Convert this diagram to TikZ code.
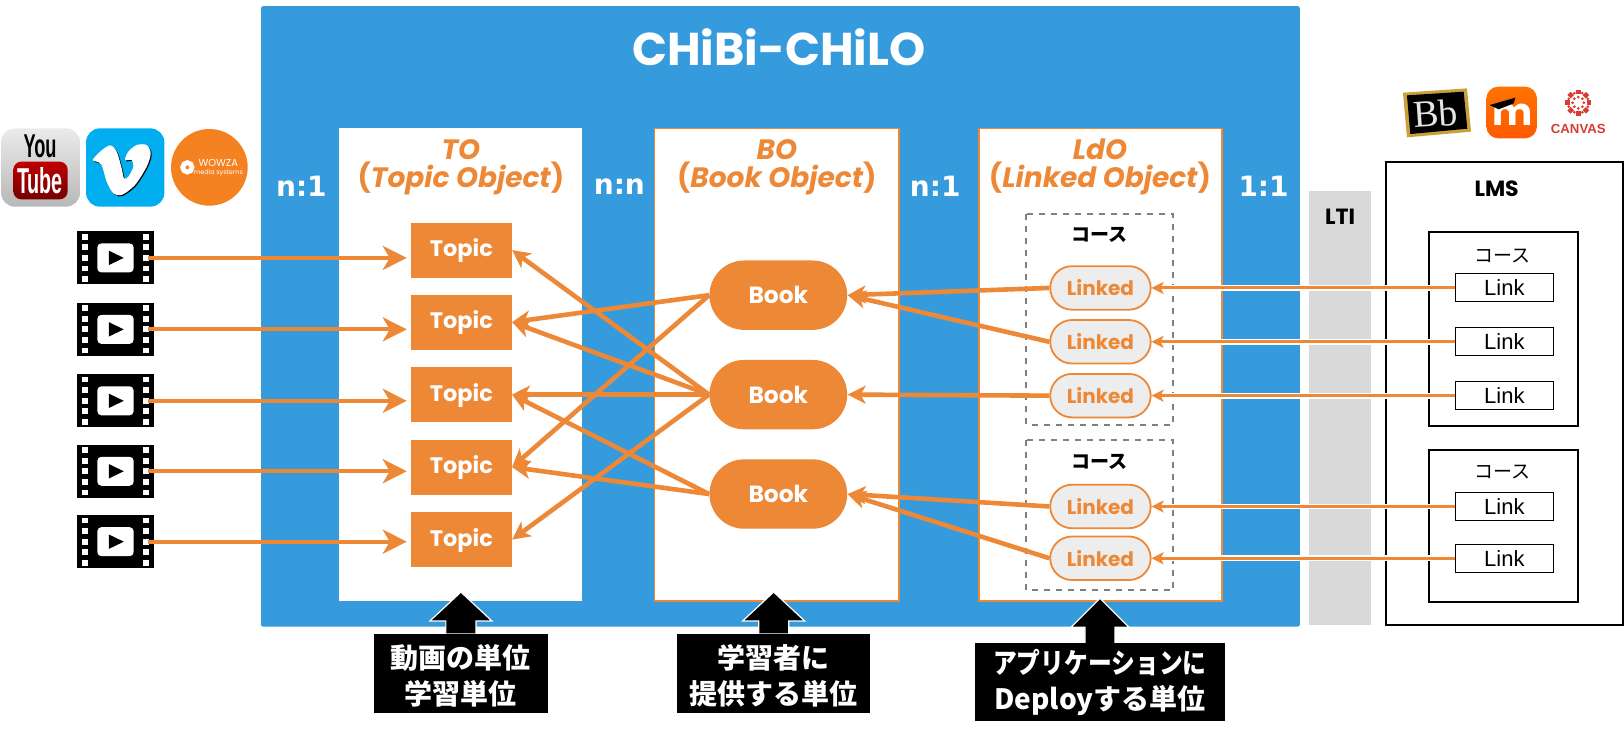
\documentclass[tikz,border=0pt]{standalone}
\usepackage{fontspec}
\setmainfont{Poppins}
\newfontfamily\cjk{Noto Sans CJK JP}
\newfontfamily\ratiofont{DejaVu Sans}
\newfontfamily\arialfont{Liberation Sans}
\newfontfamily\timesfont{Liberation Serif}
\usetikzlibrary{arrows.meta,shapes.misc}
\definecolor{chiloblue}{HTML}{359BDD}
\definecolor{chilo}{HTML}{ED8837}
\definecolor{canvasred}{HTML}{D83B32}
\newcommand{\ux}{.5179pt}
\tikzset{
  objbox/.style={draw=chilo,fill=white,line width=.9pt},
  objtitle/.style={text=chilo,font=\fontsize{14}{14}\selectfont\bfseries\itshape,align=center},
  ratio/.style={text=white,font=\ratiofont\fontsize{14}{16}\selectfont\bfseries},
  topicnode/.style={fill=chilo,text=white,minimum width=97*\ux,minimum height=53*\ux,inner sep=0pt,text height=6.8pt,text depth=0pt,font=\fontsize{11.2}{13}\selectfont\bfseries},
  booknode/.style={rounded rectangle,fill=chilo,text=white,minimum width=133*\ux,minimum height=67*\ux,inner sep=0pt,font=\fontsize{11.7}{13}\selectfont\bfseries},
  linkednode/.style={rounded rectangle,draw=chilo,fill=black!7,text=chilo,line width=.9pt,minimum width=97*\ux,minimum height=42*\ux,inner sep=0pt,font=\fontsize{10}{12}\selectfont\bfseries},
  linknode/.style={draw,fill=white,line width=.5pt,minimum width=95*\ux,minimum height=27*\ux,inner sep=0pt,font=\arialfont\fontsize{11}{12}\selectfont},
  course/.style={draw=black!50,dashed,line width=1pt},
  coursebold/.style={font=\cjk\fontsize{9.5}{11}\selectfont\bfseries},
  courseplain/.style={font=\cjk\fontsize{9.5}{11}\selectfont},
  lmsbox/.style={draw,line width=1pt},
  filmbox/.style={fill=black,minimum width=75*\ux,minimum height=51*\ux,inner sep=0pt},
  filmarrow/.style={draw=chilo,line width=2.1pt,-{Stealth[length=12pt,width=12pt,inset=3.5pt]}},
  thickarrow/.style={draw=chilo,line width=2.3pt,-{Stealth[length=9pt,width=9pt,inset=2.5pt]}},
  linkarrow/.style={draw=chilo,line width=1.5pt,-{Stealth[length=6pt,width=6pt,inset=1.5pt]},preaction={draw=white,-,line width=2.9pt,shorten >=3pt}},
  unitbox/.style={fill=black,text=white,inner sep=0pt,align=center,font=\cjk\fontsize{14}{18}\selectfont\bfseries},
  blockarrow/.style={fill=black,draw=white,line width=.6pt},
  filmicon/.pic={
    \foreach \a in {-29.5,29.5} \foreach \b in {-20.5,-10.2,0,10.2,20.5}
      \fill[white] (\a-2.8,\b-2.8) rectangle (\a+2.8,\b+2.8);
    \fill[white,rounded corners=2pt] (-17.5,-14) rectangle (17.5,14);
    \fill (-6.5,-7) -- (8,0) -- (-6.5,7) -- cycle;
  },
}
\begin{document}
\begin{tikzpicture}[x=\ux,y=-\ux]
\useasboundingbox (0,0) rectangle (1568,709.6);
\fill[chiloblue,rounded corners=1pt] (252,6) rectangle (1255,605);
\node[text=white,font=\fontsize{23}{25}\selectfont\bfseries] (title) at (752,46) {CHiBi-CHiLO};
\fill[white] (327,124) rectangle (562,580);
\draw[objbox] (632,124) rectangle (868,580);
\draw[objbox] (945,124) rectangle (1180,580);
\node[objtitle] (totitle) at (445,161.5) {TO\\{\upshape (}Topic Object{\upshape )}};
\node[objtitle] (botitle) at (750,161.5) {BO\\{\upshape (}Book Object{\upshape )}};
\node[objtitle] (ldotitle) at (1062,161.5) {LdO\\{\upshape (}Linked Object{\upshape )}};
\node[ratio] (ratioa) at (291,180) {n:1};
\node[ratio] (ratiob) at (598,180) {n:n};
\node[ratio] (ratioc) at (903,180) {n:1};
\node[ratio] (ratiod) at (1220,180) {1:1};
\draw[course] (991,207) rectangle (1133,410);
\draw[course] (991,425) rectangle (1133,570);
\node[coursebold] (coursea) at (1062,227) {コース};
\node[coursebold] (courseb) at (1062,446) {コース};
\fill[black!15] (1264,184) rectangle (1324,603);
\node[font=\fontsize{11}{13}\selectfont\bfseries] (lti) at (1294,209) {LTI};
\draw[lmsbox] (1338,156) rectangle (1567,603);
\node[font=\fontsize{11}{13}\selectfont\bfseries] (lms) at (1445,182) {LMS};
\draw[lmsbox] (1380,224) rectangle (1524,411);
\draw[lmsbox] (1380,434) rectangle (1524,581);
\node[courseplain] (lmscoursea) at (1451,247) {コース};
\node[courseplain] (lmscourseb) at (1451,456) {コース};
\foreach \i/\y in {1/241.5,2/311,3/381,4/451,5/521} {
\node[topicnode] (topic\i) at (445.5,\y) {Topic};
}
\foreach \i/\y in {1/285,2/381,3/477} {
\node[booknode] (book\i) at (751.5,\y) {Book};
}
\foreach \i/\y in {1/278,2/330,3/382,4/489,5/539} {
\node[linkednode] (linked\i) at (1062.5,\y) {Linked};
\node[linknode] (link\i) at (1452.5,\y) {Link};
\draw[linkarrow] (link\i.west) -- (linked\i.east);
}
\foreach \i/\y in {1/249,2/318,3/387,4/455,5/523} {
\node[filmbox] (film\i) at (111.5,\y) {};
\pic at (film\i.center) {filmicon};
\draw[filmarrow,shorten <=-3.5pt,shorten >=2pt] (film\i.east) -- (film\i.east -| topic\i.west);
}
\foreach \b/\t in {2/1,1/2,2/2,2/3,3/3,1/4,3/4,2/5} {
\draw[thickarrow] (book\b.west) -- (topic\t.east);
}
\foreach \l/\b in {1/1,2/1,3/2,4/3,5/3} {
\draw[thickarrow] (linked\l.west) -- (book\b.east);
}
\node[unitbox,minimum width=168*\ux,minimum height=76*\ux] (unita) at (445,650) {\rule{0pt}{14.4pt}動画の単位\\学習単位};
\node[unitbox,minimum width=186*\ux,minimum height=76*\ux] (unitb) at (747,650) {\rule{0pt}{14.4pt}学習者に\\提供する単位};
\node[unitbox,minimum width=242*\ux,minimum height=75*\ux] (unitc) at (1062,658.5) {\scalebox{.85}[1]{アプリケーションに}\\Deployする単位};
\draw[blockarrow] (unita.north) ++(-14.5,0) -- ++(0,-12) -- ++(-15.5,0) -- ++(30,-28) -- ++(30,28) -- ++(-15.5,0) -- ++(0,12);
\draw[blockarrow] (unitb.north) ++(-14.5,0) -- ++(0,-12) -- ++(-15.5,0) -- ++(30,-28) -- ++(30,28) -- ++(-15.5,0) -- ++(0,12);
\draw[blockarrow] (unitc.north) ++(-14.5,0) -- ++(0,-15) -- ++(-13.5,0) -- ++(28,-28) -- ++(28,28) -- ++(-13.5,0) -- ++(0,15);
\begin{scope}[shift={(0,106.2)},scale=.3219]
\shade[rounded corners=7pt,top color=black!8,bottom color=black!28] (3,55) rectangle (240,290);
\node[xscale=.55,font=\arialfont\fontsize{16.5}{18}\selectfont\bfseries] (you) at (120,108) {You};
\shade[rounded corners=4pt,top color=red!75!black,bottom color=red!45!black] (40,155) rectangle (203,268);
\node[text=white,xscale=.55,font=\arialfont\fontsize{18}{20}\selectfont\bfseries] (tube) at (120,212) {Tube};
\fill[rounded corners=7pt,fill={rgb,255:red,0;green,173;blue,239}] (258,55) rectangle (493,290);
\fill[shift={(3,3)}] plot[smooth cycle] coordinates {(278,150) (300,125) (330,106) (350,125) (365,175) (372,205) (385,200) (400,170) (395,150) (375,150) (385,125) (410,105) (440,105) (452,130) (440,170) (405,225) (365,255) (340,250) (320,215) (305,165) (290,155)};
\fill[white] plot[smooth cycle] coordinates {(278,150) (300,125) (330,106) (350,125) (365,175) (372,205) (385,200) (400,170) (395,150) (375,150) (385,125) (410,105) (440,105) (452,130) (440,170) (405,225) (365,255) (340,250) (320,215) (305,165) (290,155)};
\fill[fill={rgb,255:red,245;green,130;blue,32}] (628,172) circle (115);
\draw[white,line width=2.4pt] (562,172) circle (14);
\node[text=white,font=\fontsize{5}{6}\selectfont] (wowza) at (655,160) {WOWZA};
\node[text=white,font=\fontsize{3.2}{4}\selectfont] (mediasys) at (655,190) {media systems};
\end{scope}
\begin{scope}[shift={(1284.4,67.6)},scale=.3219]
\fill[fill={rgb,255:red,201;green,161;blue,59}] (218,68) -- (410,55) -- (422,185) -- (230,202) -- cycle;
\fill[black] (230,76) -- (400,65) -- (411,176) -- (240,192) -- cycle;
\node[text=black!10,rotate=4,font=\timesfont\fontsize{19}{20}\selectfont] (bb) at (316,130) {Bb};
\shade[rounded corners=6pt,top color=orange!90!red,bottom color=orange!70!red] (468,50) rectangle (620,205);
\node[text=white,font=\fontsize{19}{20}\selectfont\bfseries] (moodle) at (547,133) {m};
\fill (478,105) -- (555,83) -- (550,100) -- (505,118) -- cycle;
\end{scope}
\begin{scope}[shift={(1477.5,77.3)},scale=.3219]
\foreach \a in {0,45,...,315} {
\draw[canvasred,line width=2.4pt] (144,68) ++(\a-12:33) arc[start angle=\a-12,end angle=\a+12,radius=33];
\fill[canvasred] (144,68) ++(\a+22.5:31) circle (4.5);
\fill[canvasred] (144,68) ++(\a:17) circle (4.5);
}
\node[text=canvasred,font=\arialfont\fontsize{6.6}{8}\selectfont\bfseries] (canvas) at (144,147) {CANVAS};
\end{scope}
\end{tikzpicture}
\end{document}
